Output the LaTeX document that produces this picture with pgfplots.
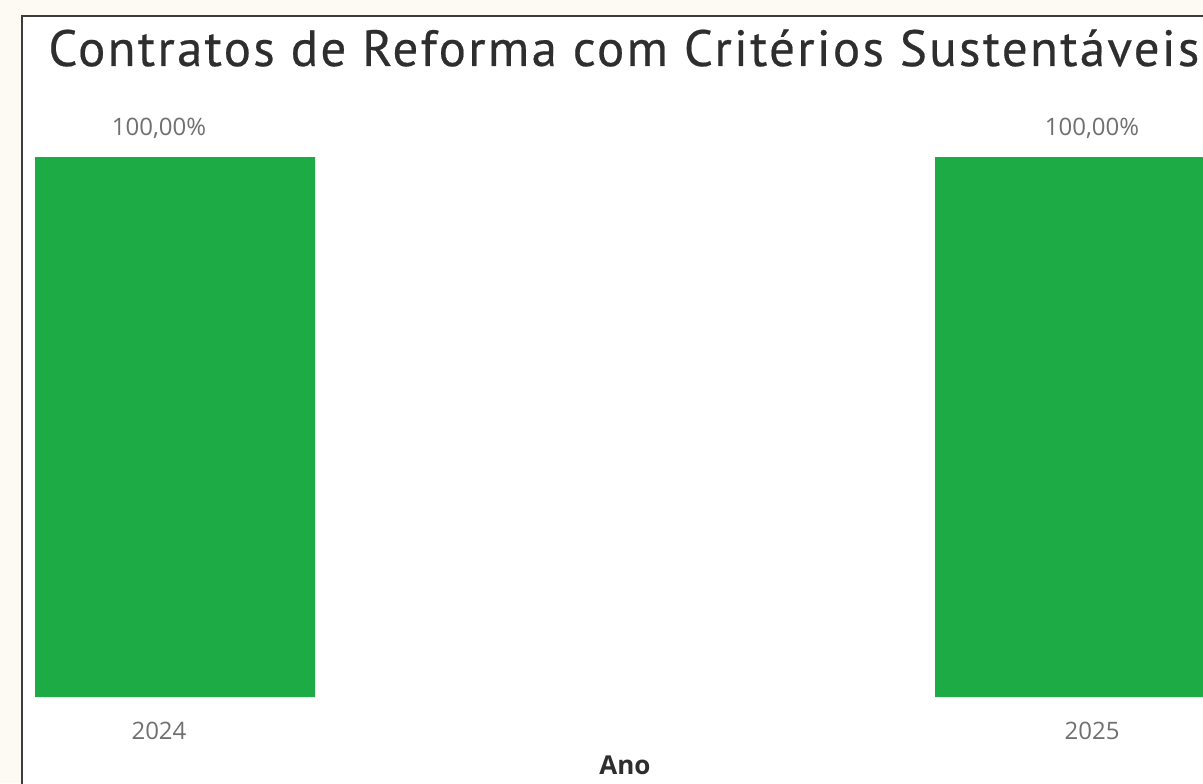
\documentclass[border=0pt]{standalone}
\usepackage{fontspec}
\usepackage{pgfplots}
\pgfplotsset{compat=1.18}
\setmainfont{Open Sans}
\newfontfamily\titlefont[LetterSpace=4.5,FakeBold=0.4]{PT Sans}
\definecolor{bg}{HTML}{FCFAF2}
\definecolor{bargreen}{HTML}{1CAB45}
\definecolor{lblgray}{HTML}{707070}
\definecolor{titlegray}{HTML}{2E2E2E}
\definecolor{framec}{HTML}{3C3C3C}
\begin{document}
\begin{tikzpicture}[x=0.5pt,y=0.5pt]
\clip (0,0) rectangle (1203,783);
\fill[bg] (0,0) rectangle (1203,783);
\fill[white] (22,0) rectangle (1203,767);
\draw[framec, line width=1pt] (22,-2) -- (22,767) -- (1210,767);
\node[anchor=base west, text=titlegray, font=\titlefont\fontsize{25.5}{29}\selectfont, inner sep=0pt] at (48,717) {Contratos de Reforma com Critérios Sustentáveis};
\begin{axis}[
  at={(11pt,43pt)}, anchor=south west,
  scale only axis, width=590.5pt, height=270pt,
  xmin=-0.17, xmax=1.1422, ymin=0, ymax=100,
  clip=false,
  axis line style={draw=none},
  tick style={draw=none},
  ytick=\empty,
  xtick={-0.0178,1.0189},
  xticklabels={2024,2025},
  xticklabel style={font=\fontsize{12}{14}\selectfont, text=lblgray, anchor=center, yshift=-12.5pt},
  ybar, bar shift=0pt, bar width=140pt,
  /pgf/number format/assume math mode=true,
]
\addplot[fill=bargreen, draw=none] coordinates {(0,100) (1,100)};
\addplot[sharp plot, draw=none, nodes near coords={\pgfmathprintnumber[fixed, fixed zerofill, precision=2, use comma]{\pgfplotspointmeta}\%},
  every node near coord/.append style={font=\fontsize{12}{14}\selectfont, text=lblgray, anchor=center, yshift=14.5pt}]
  coordinates {(-0.0178,100) (1.0189,100)};
\end{axis}
\node[font=\bfseries\fontsize{13}{15}\selectfont, text=titlegray] at (625,18) {Ano};
\end{tikzpicture}
\end{document}
